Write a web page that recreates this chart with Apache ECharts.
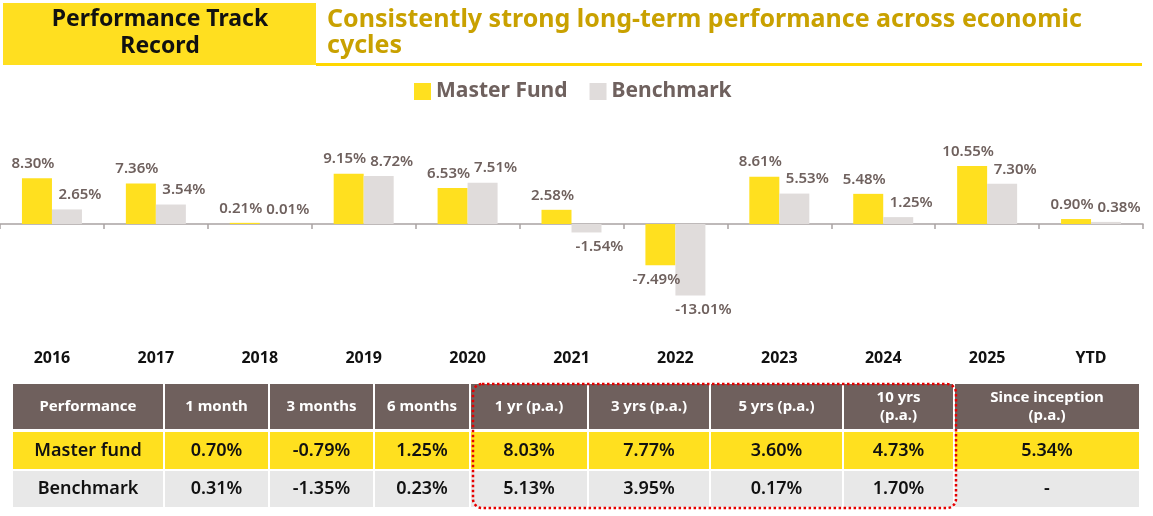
<!DOCTYPE html>
<html>
<head>
<meta charset="utf-8">
<script src="https://cdn.jsdelivr.net/npm/echarts@6/dist/echarts.min.js"></script>
<style>
  html, body { margin: 0; padding: 0; background: #fff; }
  #main { width: 1153px; height: 516px; }
</style>
</head>
<body>
<div id="main"></div>
<script>
// yearly returns, %
var years = ['2016', '2017', '2018', '2019', '2020', '2021', '2022', '2023', '2024', '2025', 'YTD'];
var masterFund = [8.30, 7.36, 0.21, 9.15, 6.53, 2.58, -7.49, 8.61, 5.48, 10.55, 0.90];
var benchmark = [2.65, 3.54, 0.01, 8.72, 7.51, -1.54, -13.01, 5.53, 1.25, 7.30, 0.38];

// table below the chart
var periods = ['1 month', '3 months', '6 months', '1 yr (p.a.)', '3 yrs (p.a.)', '5 yrs (p.a.)', '10 yrs\n(p.a.)', 'Since inception\n(p.a.)'];
var fundRow = ['0.70%', '-0.79%', '1.25%', '8.03%', '7.77%', '3.60%', '4.73%', '5.34%'];
var benchRow = ['0.31%', '-1.35%', '0.23%', '5.13%', '3.95%', '0.17%', '1.70%', '-'];

var FONT = '"Noto Sans", sans-serif';
var YELLOW = '#FFE01F';
var GREY = '#E0DCDB';
var BROWN = '#6F615E';

// table layout
var colX = [12, 164, 269, 374, 470, 588, 710, 843, 954, 1140];
var rows = [
    { y: 384, h: 45, fill: '#6F605D', color: '#fff', size: 15, cells: ['Performance'].concat(periods) },
    { y: 432, h: 37, fill: YELLOW, color: '#111', size: 18, cells: ['Master fund'].concat(fundRow) },
    { y: 471, h: 36, fill: '#E8E8E8', color: '#111', size: 18, cells: ['Benchmark'].concat(benchRow) }
];

var graphics = [
    { type: 'rect', shape: { x: 3, y: 3, width: 313, height: 62 }, style: { fill: '#FFDF20' } },
    { type: 'text', style: { text: 'Performance Track\nRecord', x: 160, y: 33, textAlign: 'center', textVerticalAlign: 'middle',
        font: 'bold 23px ' + FONT, lineHeight: 27, fill: '#111' } },
    { type: 'text', style: { text: 'Consistently strong long-term performance across economic\ncycles', x: 327, y: 33,
        textVerticalAlign: 'middle', font: 'bold 25px ' + FONT, lineHeight: 26, fill: '#C9A100' } },
    { type: 'rect', shape: { x: 316, y: 63, width: 826, height: 3 }, style: { fill: '#FFD700' } }
];

rows.forEach(function (r) {
    r.cells.forEach(function (txt, i) {
        var x0 = colX[i] + 1, x1 = colX[i + 1] - 1;
        graphics.push({ type: 'rect', shape: { x: x0, y: r.y, width: x1 - x0, height: r.h }, style: { fill: r.fill } });
        graphics.push({ type: 'text', style: { text: txt, x: (x0 + x1) / 2, y: r.y + r.h / 2,
            textAlign: 'center', textVerticalAlign: 'middle', lineHeight: 18,
            font: (r.size === 15 ? 'bold ' : '600 ') + r.size + 'px ' + FONT, fill: r.color } });
    });
});

// dotted box round the annualised columns
graphics.push({ type: 'rect', z: 10, shape: { x: 473, y: 384, width: 483, height: 124, r: 9 },
    style: { fill: 'none', stroke: '#E60000', lineWidth: 2.5, lineDash: [2.5, 2.5] } });

var chart = echarts.init(document.getElementById('main'));

function pct(p) { return p.value.toFixed(2) + '%'; }

chart.setOption({
    animation: false,
    backgroundColor: '#fff',
    legend: {
        data: ['Master Fund', 'Benchmark'],
        left: 414, top: 81,
        icon: 'rect', itemWidth: 17, itemHeight: 17, itemGap: 22,
        padding: 0,
        textStyle: { fontFamily: FONT, fontSize: 21, fontWeight: 'bold', color: BROWN }
    },
    grid: { left: -2, right: 10, top: 140, bottom: 181 },
    xAxis: [
        {
            type: 'category', data: years, position: 'bottom',
            axisLine: { onZero: true, lineStyle: { color: '#A9A3A3', width: 1.5 } },
            axisTick: { show: true, length: 5, lineStyle: { color: '#A9A3A3', width: 1.5 } },
            axisLabel: { show: false }
        },
        {
            type: 'category', data: years, position: 'bottom',
            axisLine: { show: false, onZero: false },
            axisTick: { show: false },
            axisLabel: { fontFamily: FONT, fontSize: 16, fontWeight: 'bold', color: '#111', margin: 15 }
        }
    ],
    yAxis: { type: 'value', min: -20.18, max: 15.27, show: false },
    series: [
        {
            name: 'Master Fund', type: 'bar', data: masterFund, xAxisIndex: 0,
            barWidth: 30, barGap: '0%',
            itemStyle: { color: YELLOW },
            label: { show: true, position: 'outside', distance: 7, offset: [-4, 0], formatter: pct,
                fontFamily: FONT, fontSize: 15, fontWeight: 600, color: BROWN }
        },
        {
            name: 'Benchmark', type: 'bar', data: benchmark, xAxisIndex: 0,
            barWidth: 30, barGap: '0%',
            itemStyle: { color: GREY },
            label: { show: true, position: 'outside', distance: 7, offset: [13, 0], formatter: pct,
                fontFamily: FONT, fontSize: 15, fontWeight: 600, color: BROWN }
        }
    ],
    graphic: graphics
});
</script>
</body>
</html>
